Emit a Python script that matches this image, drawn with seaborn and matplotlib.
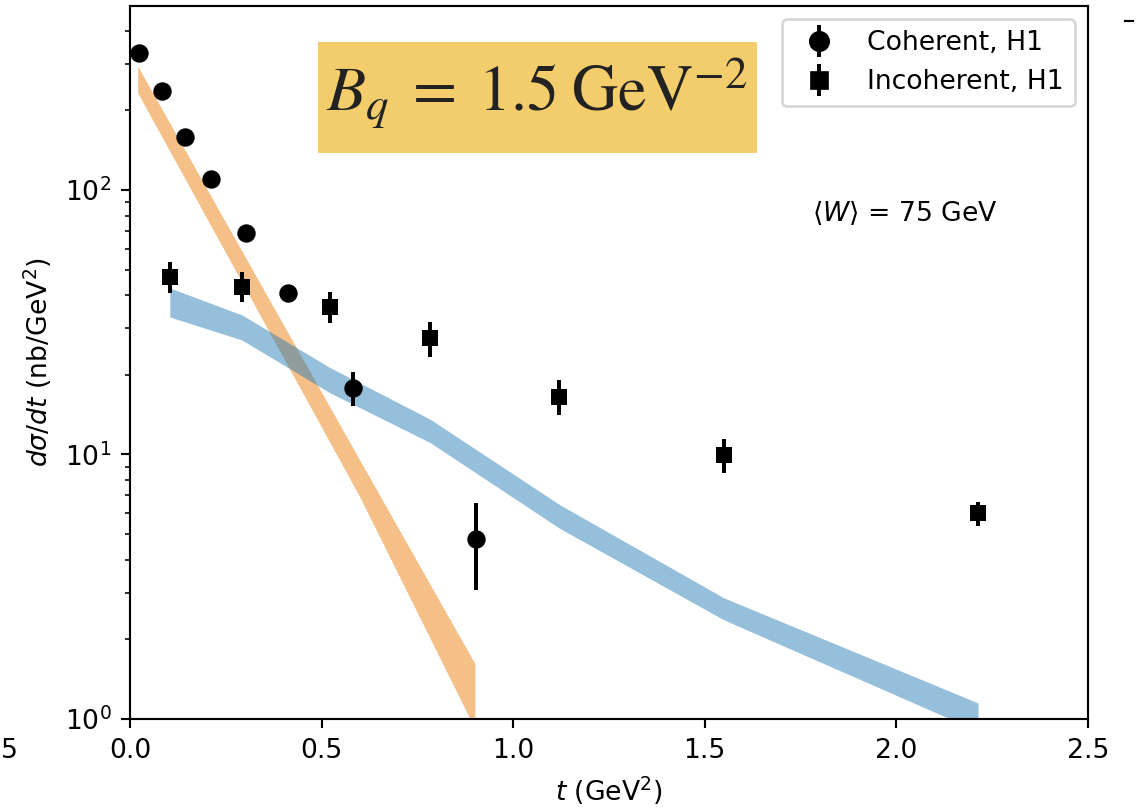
import numpy as np
import pandas as pd
import matplotlib
matplotlib.use("Agg")
import matplotlib.pyplot as plt
from matplotlib.lines import Line2D
from matplotlib.patches import Rectangle
import seaborn as sns

# ---------------- data ----------------
# Coherent H1 data
coh_t = [0.024, 0.083, 0.1435, 0.211, 0.302, 0.413, 0.582, 0.903]
coh_val = [329, 237, 159, 109.7, 69.0, 40.7, 17.9, 4.79]
coh_up = [345, 249, 167, 115, 72.5, 42.8, 20.5, 6.56]
coh_lo = [313, 225, 151, 104, 65.5, 38.6, 15.3, 3.07]

# Incoherent H1 data
inc_t = [0.104, 0.292, 0.522, 0.783, 1.12, 1.55, 2.213]
inc_val = [46.9, 43.0, 36.1, 27.6, 16.5, 9.98, 6.01]
inc_up = [53.4, 49.0, 41.2, 31.8, 19.1, 11.4, 6.61]
inc_lo = [40.8, 37.7, 31.4, 23.4, 14.1, 8.51, 5.37]

# Model bands
coh_band_t = [0.02, 0.3, 0.6, 0.9]
coh_band_hi = [294, 56.0, 9.5, 1.62]
coh_band_lo = [233, 42.7, 6.9, 0.92]

inc_band_t = [0.104, 0.292, 0.522, 0.783, 1.122, 1.55, 2.213]
inc_band_hi = [42.6, 33.7, 21.3, 13.6, 6.45, 2.87, 1.15]
inc_band_lo = [33.1, 27.1, 17.1, 11.1, 5.25, 2.37, 0.90]

labels = ["Coherent, H1", "Incoherent, H1"]
xticks = [0.0, 0.5, 1.0, 1.5, 2.0, 2.5]

# ---------------- figure ----------------
DPI = 192
fig = plt.figure(figsize=(1136 / DPI, 809 / DPI), dpi=DPI)
ax = fig.add_axes([130 / 1136, 1 - 719 / 809, (1088 - 130) / 1136, (719 - 6) / 809])

# bands
ax.fill_between(coh_band_t, coh_band_lo, coh_band_hi, color="#F5BF88", alpha=1.0, lw=0)
ax.fill_between(inc_band_t, inc_band_lo, inc_band_hi, color="tab:blue", alpha=0.47, lw=0)

# error bars
coh_err = [np.array(coh_val) - np.array(coh_lo), np.array(coh_up) - np.array(coh_val)]
inc_err = [np.array(inc_val) - np.array(inc_lo), np.array(inc_up) - np.array(inc_val)]
ax.errorbar(coh_t, coh_val, yerr=coh_err, fmt="none", ecolor="black", elinewidth=1.5)
ax.errorbar(inc_t, inc_val, yerr=inc_err, fmt="none", ecolor="black", elinewidth=1.5)

# markers via seaborn
df_coh = pd.DataFrame({"t": coh_t, "v": coh_val})
df_inc = pd.DataFrame({"t": inc_t, "v": inc_val})
sns.scatterplot(data=df_coh, x="t", y="v", marker="o", s=6.9 ** 2, color="black",
                edgecolor="black", linewidth=0, ax=ax, legend=False, zorder=3)
sns.scatterplot(data=df_inc, x="t", y="v", marker="s", s=6.3 ** 2, color="black",
                edgecolor="black", linewidth=0, ax=ax, legend=False, zorder=3)

ax.set_yscale("log")
ax.set_xlim(0, 2.5)
ax.set_ylim(1, 496)
ax.set_xticks(xticks)
ax.set_xlabel(r"$t$ (GeV$^2$)")
ax.set_ylabel(r"$d\sigma/dt$ (nb/GeV$^2$)")

# legend (errorbar-like handles)
h1 = (Line2D([], [], marker="o", color="black", ls="none", ms=6.9),
      Line2D([], [], marker="|", color="black", ls="none", ms=12, mew=1.5))
h2 = (Line2D([], [], marker="s", color="black", ls="none", ms=6.3),
      Line2D([], [], marker="|", color="black", ls="none", ms=12, mew=1.5))
ax.legend([h1, h2], labels, loc="upper right")

ax.text(0.712, 0.711, r"$\langle W\rangle$ = 75 GeV", transform=ax.transAxes,
        va="center", ha="left", fontsize=10)

# yellow annotation box
fig.patches.append(Rectangle((318 / 1136, 1 - 153 / 809), (757 - 318) / 1136, 111 / 809,
                             transform=fig.transFigure, facecolor="#F3CD6B",
                             edgecolor="none", zorder=5))
fig.text(537 / 1136, 1 - 112 / 809, r"$B_q\;=\;1.5\;\mathrm{GeV}^{-2}$",
         ha="center", va="baseline", fontsize=24, math_fontfamily="stix",
         color="#222222", zorder=6)

# stray fragments at the screenshot edges
fig.text(1 / 1136, 1 - 751 / 809, "5", ha="left", va="center", fontsize=10)
fig.lines.append(Line2D([1125 / 1136, 1133 / 1136], [1 - 21 / 809, 1 - 21 / 809],
                        transform=fig.transFigure, color="black", lw=0.8))

fig.savefig("out.png", dpi=DPI)
